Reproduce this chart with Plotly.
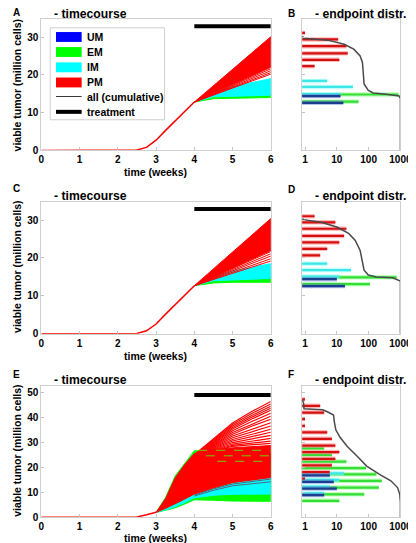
import math
import plotly.graph_objects as go

W, H = 416, 543
FONT = "Liberation Sans"

# ---------------- data ----------------
# common pre-treatment growth (weeks, million cells)
T_PRE = [0, 1, 2, 2.5, 2.75, 3, 3.25, 3.5, 3.75, 4]
A_PRE = [0, 0, 0, 0.1, 0.8, 2.7, 5.3, 7.8, 10.3, 12.8]
C_PRE = [0, 0, 0, 0.1, 0.8, 2.6, 5.2, 7.7, 10.2, 12.7]
T_PRE_E = [0, 1, 2, 2.5, 2.75, 3]
E_PRE = [0, 0, 0, 0.1, 1.0, 2.0]

# treatment period bar
TREAT_T = [4, 6]
A_TREAT_Y = 32.9
C_TREAT_Y = 32.9
E_TREAT_Y = 48.9

# panel A fans (t = 4, 4.5, 5, 6)
T_FAN = [4, 4.5, 5, 6]
A_GREEN_HI = [12.8, 14.2, 14.4, 14.6]
A_GREEN_LO = [12.8, 13.7, 13.9, 14.0]
A_CYAN_HI = [12.8, 15.5, 16.9, 19.0]
T_RED = [4, 6]
A_RED_HI = [12.8, 30.1]
A_RED_LO = [12.8, 22.0]
A_RED_LINES = [21.6, 21.1, 20.6, 20.2]

# panel C fans
C_GREEN_HI = [12.7, 14.0, 14.3, 14.6]
C_GREEN_LO = [12.7, 13.4, 13.6, 13.6]
C_CYAN_HI = [12.7, 15.3, 16.6, 18.5]
C_RED_HI = [12.7, 30.4]
C_RED_LO = [12.7, 22.0]
C_RED_LINES = [21.7, 21.1, 20.5, 19.8, 19.2]

# panel E envelopes (t = 3 ... 6)
T_FAN_E = [3, 3.25, 3.5, 3.75, 4, 4.5, 5, 5.5, 6]
E_GREEN_HI = [2.0, 8.0, 16.5, 21.8, 26.6, 26.4, 26.1, 25.8, 25.5]
E_GREEN_LO = [2.0, 2.8, 3.8, 5.3, 7.0, 6.8, 6.5, 6.4, 6.4]
E_CYAN_HI = [2.0, 3.5, 5.0, 7.0, 9.0, 11.5, 13.5, 14.8, 15.9]
E_CYAN_LO = [2.0, 3.0, 4.2, 5.9, 7.8, 8.8, 9.2, 9.3, 9.3]
E_RED_HI = [2.0, 7.5, 15.8, 21.1, 25.5, 27.0, 27.8, 28.3, 28.7]
E_RED_LO = [2.0, 3.6, 5.3, 7.3, 9.3, 11.8, 13.9, 15.0, 15.9]
# individual trajectories visible above the dense red region (t = 4 ... 6)
T_LINES_E = [4, 4.5, 5, 5.5, 6]
E_RED_LINES = [
    [25.0, 31.5, 37.7, 42.3, 46.3],
    [24.8, 31.1, 37.1, 41.5, 45.3],
    [24.6, 30.7, 36.5, 40.7, 44.4],
    [24.4, 30.3, 35.9, 40.0, 43.6],
    [24.2, 29.9, 35.3, 39.3, 42.8],
    [24.0, 29.5, 34.6, 38.3, 41.6],
    [23.8, 29.1, 33.9, 37.3, 40.4],
    [23.6, 28.8, 33.2, 36.4, 39.2],
    [23.4, 28.5, 32.5, 35.3, 37.8],
    [23.2, 28.2, 31.8, 34.3, 36.5],
    [23.0, 27.9, 31.1, 33.3, 35.2],
    [22.8, 27.6, 30.5, 32.4, 34.0],
    [22.6, 27.3, 29.9, 31.4, 32.8],
    [22.4, 27.0, 29.3, 30.5, 31.6],
    [22.2, 26.7, 28.8, 29.7, 30.5],
    [22.0, 26.4, 28.4, 29.1, 29.6],
]
E_DARK_LINES = [
    [8.9, 11.4, 13.3, 14.4, 15.3],
    [8.5, 10.8, 12.6, 13.5, 14.2],
]
E_GREEN_DASH_T0 = [4.1, 4.3, 4.6]
E_GREEN_DASH_Y = [26.8, 24.6, 22.4]

# endpoint histograms: bin position (million cells) and count
B_GREEN_Y = [14.8, 12.9]
B_GREEN_N = [870, 48]
B_CYAN_Y = [18.4, 16.8, 14.9]
B_CYAN_N = [5, 32, 13]
B_BLUE_Y = [14.4, 12.6]
B_BLUE_N = [13, 16]
B_RED_Y = [31.1, 29.4, 27.6, 25.7, 24.0, 22.3]
B_RED_N = [1, 11, 20, 22, 12, 2]
B_CUM_X = [0.83, 0.89, 5.2, 17, 34, 54, 64, 69, 72, 98, 139, 355, 910, 1000, 1000]
B_CUM_Y = [30.3, 29.7, 29.2, 28.1, 26.8, 25.0, 23.3, 20.7, 17.6, 15.9, 15.2, 14.9, 14.4, 13.7, 0]

D_GREEN_Y = [14.9, 13.1]
D_GREEN_N = [760, 110]
D_CYAN_Y = [18.5, 16.8, 15.1]
D_CYAN_N = [5, 28, 12]
D_BLUE_Y = [14.4, 12.6]
D_BLUE_N = [10, 18]
D_RED_Y = [31.0, 29.4, 27.7, 25.8, 24.1, 22.4, 20.7]
D_RED_N = [2, 9, 20, 17, 12, 5, 3]
D_CUM_X = [0.83, 0.9, 3.2, 10.5, 24, 38, 54, 64, 72, 98, 175, 570, 1000, 1000]
D_CUM_Y = [30.4, 30.1, 29.4, 28.1, 26.4, 24.6, 22.0, 19.0, 16.8, 15.5, 15.0, 14.8, 13.9, 0]

F_GREEN_Y = [27.6, 25.0, 22.3, 19.7, 17.2, 14.6, 11.9, 9.2, 6.6]
F_GREEN_N = [4, 7, 20, 83, 175, 260, 210, 73, 12]
F_CYAN_Y = [17.6, 15.0, 12.3, 9.6]
F_CYAN_N = [17, 12, 6, 4]
F_BLUE_Y = [16.8, 14.2, 11.5, 8.9]
F_BLUE_N = [6, 8, 10, 4]
F_RED_Y = [47.2, 44.6, 41.9, 39.3, 36.6, 34.0, 31.4, 28.7, 26.1, 23.4, 20.8, 18.1, 15.5]
F_RED_N = [1, 3, 4, 1, 1, 5, 7, 9, 12, 9, 7, 6, 1]
F_CUM_X = [0.83, 0.9, 0.93, 3.6, 5.2, 7.9, 8.3, 9.3, 12.6, 21, 43, 87, 220, 500, 810, 950, 1000, 1000]
F_CUM_Y = [46.9, 45.6, 43.4, 43.0, 42.1, 40.9, 38.4, 35.0, 32.0, 28.4, 24.5, 20.5, 17.2, 14.6, 11.9, 9.3, 6.0, 0]

# axis settings
T_TICKS = [0, 1, 2, 3, 4, 5, 6]
HIST_TICKS = [1, 10, 100, 1000]
HIST_TICKTEXT = ["1", "10", "100", "1000"]
HIST_XMIN, HIST_XMAX = 0.81, 1000
A_YMAX, C_YMAX, E_YMAX = 34.7, 34.8, 52.6

LEGEND_LABELS = ["UM", "EM", "IM", "PM", "all (cumulative)", "treatment"]

# colours
RED, CYAN, GREEN, BLUE = "#ff0000", "#00ffff", "#00ff00", "#0000ff"

# ---------------- helpers ----------------
def px(x):
    return x / W


def py(y):
    return 1 - y / H


fig = go.Figure()


def axn(i):
    return ("x" if i == 1 else f"x{i}"), ("y" if i == 1 else f"y{i}")


def poly(i, t, hi, lo, color):
    xa, ya = axn(i)
    fig.add_trace(go.Scatter(x=list(t) + list(t)[::-1], y=list(hi) + list(lo)[::-1],
                             fill="toself", fillcolor=color, mode="lines",
                             line=dict(color=color, width=1),
                             xaxis=xa, yaxis=ya, hoverinfo="skip", showlegend=False))


def line(i, t, v, color, width=1.0, dash=None):
    xa, ya = axn(i)
    fig.add_trace(go.Scatter(x=t, y=v, mode="lines",
                             line=dict(color=color, width=width, dash=dash),
                             xaxis=xa, yaxis=ya, hoverinfo="skip", showlegend=False))


def hbars(i, ys, ns, core, halo):
    xs, yy = [], []
    for y, n in zip(ys, ns):
        xs += [HIST_XMIN, n, None]
        yy += [y, y, None]
    line(i, xs, yy, halo, 4.5)
    line(i, xs, yy, core, 2.2)


# ---------------- panel A ----------------
poly(1, T_FAN, A_GREEN_HI, A_GREEN_LO, GREEN)
poly(1, T_FAN, A_CYAN_HI, A_GREEN_HI, CYAN)
poly(1, T_RED, A_RED_HI, A_RED_LO, RED)
for v in A_RED_LINES:
    line(1, T_RED, [A_RED_HI[0], v], RED, 1.0)
line(1, T_PRE, A_PRE, RED, 1.5)
line(1, TREAT_T, [A_TREAT_Y, A_TREAT_Y], "black", 4)

# ---------------- panel C ----------------
poly(3, T_FAN, C_GREEN_HI, C_GREEN_LO, GREEN)
poly(3, T_FAN, C_CYAN_HI, C_GREEN_HI, CYAN)
poly(3, T_RED, C_RED_HI, C_RED_LO, RED)
for v in C_RED_LINES:
    line(3, T_RED, [C_RED_HI[0], v], RED, 1.0)
line(3, T_PRE, C_PRE, RED, 1.5)
line(3, TREAT_T, [C_TREAT_Y, C_TREAT_Y], "black", 4)

# ---------------- panel E ----------------
poly(5, T_FAN_E, E_GREEN_HI, E_GREEN_LO, GREEN)
poly(5, T_FAN_E, E_CYAN_HI, E_CYAN_LO, CYAN)
for v in E_DARK_LINES:
    line(5, T_LINES_E, v, "#4d6680", 1.0)
poly(5, T_FAN_E, E_RED_HI, E_RED_LO, RED)
for v in E_RED_LINES:
    line(5, T_LINES_E, v, RED, 1.2)
for t0, v in zip(E_GREEN_DASH_T0, E_GREEN_DASH_Y):
    line(5, [t0, 6], [v, v], "#6fcf00", 1.0, "dash")
line(5, T_PRE_E, E_PRE, RED, 1.5)
line(5, TREAT_T, [E_TREAT_Y, E_TREAT_Y], "black", 4)

# ---------------- histograms ----------------
HALO = dict(red="rgba(255,130,130,0.55)", cyan="rgba(150,255,255,0.6)",
            green="rgba(140,255,140,0.6)", blue="rgba(90,120,210,0.45)")
CORE = dict(red="#d41010", cyan="#3ee6e6", green="#33dd33", blue="#1c3d8f")
for i, (gy, gn, cy, cn, by, bn, ry, rn, cx, cyy) in {
    2: (B_GREEN_Y, B_GREEN_N, B_CYAN_Y, B_CYAN_N, B_BLUE_Y, B_BLUE_N, B_RED_Y, B_RED_N, B_CUM_X, B_CUM_Y),
    4: (D_GREEN_Y, D_GREEN_N, D_CYAN_Y, D_CYAN_N, D_BLUE_Y, D_BLUE_N, D_RED_Y, D_RED_N, D_CUM_X, D_CUM_Y),
    6: (F_GREEN_Y, F_GREEN_N, F_CYAN_Y, F_CYAN_N, F_BLUE_Y, F_BLUE_N, F_RED_Y, F_RED_N, F_CUM_X, F_CUM_Y),
}.items():
    hbars(i, gy, gn, CORE["green"], HALO["green"])
    hbars(i, cy, cn, CORE["cyan"], HALO["cyan"])
    hbars(i, ry, rn, CORE["red"], HALO["red"])
    hbars(i, by, bn, CORE["blue"], HALO["blue"])
    line(i, cx, cyy, "#4a4a4a", 1.5)

# ---------------- axes ----------------
ROWS = {1: (11.5, 144, A_YMAX, [0, 10, 20, 30]),
        3: (196, 329.5, C_YMAX, [0, 10, 20, 30]),
        5: (382, 515, E_YMAX, [0, 10, 20, 30, 40, 50])}
TICKFONT = dict(family=FONT, size=10, color="black", weight="bold")
common = dict(showgrid=False, zeroline=False, showline=True, mirror=True,
              linecolor="#cfcfcf", linewidth=1, ticks="inside", ticklen=3,
              tickcolor="#c4c4c4", tickfont=TICKFONT)
lay = {}
for i, (top, bot, ymax, yt) in ROWS.items():
    ydom = [py(bot), py(top)]
    xa, ya = ("xaxis" if i == 1 else f"xaxis{i}"), ("yaxis" if i == 1 else f"yaxis{i}")
    lay[xa] = dict(domain=[px(31.5), px(269.5)], range=[0, 6], tickvals=T_TICKS,
                   anchor=("y" if i == 1 else f"y{i}"), **common)
    lay[ya] = dict(domain=ydom, range=[0, ymax], tickvals=yt,
                   anchor=("x" if i == 1 else f"x{i}"), **common)
    j = i + 1
    lay[f"xaxis{j}"] = dict(domain=[px(302), px(404)], type="log",
                            range=[math.log10(HIST_XMIN), math.log10(HIST_XMAX)],
                            tickvals=HIST_TICKS, ticktext=HIST_TICKTEXT,
                            ticklabeloverflow="allow",
                            anchor=f"y{j}", **common)
    lay[f"yaxis{j}"] = dict(domain=ydom, range=[0, ymax], tickvals=yt,
                            showticklabels=False, anchor=f"x{j}", **common)

fig.update_layout(**lay)

# ---------------- texts ----------------
ann = []


def text(x, y, s, size, xanchor="left", angle=0):
    ann.append(dict(x=px(x), y=py(y), xref="paper", yref="paper", text=s,
                    showarrow=False, xanchor=xanchor, yanchor="middle", textangle=angle,
                    font=dict(family=FONT, size=size, color="black", weight="bold")))


for letter, ly, ty in [("A", 5, 6.5), ("C", 183, 190), ("E", 370.3, 375.8)]:
    text(0.5, ly, letter, 10)
    text(42.5, ty, "- timecourse", 12.2)
for letter, ly, ty in [("B", 6, 6.5), ("D", 183.3, 190), ("F", 370.3, 375.8)]:
    text(285, ly, letter, 10)
    text(313.5, ty, "- endpoint distr.", 12.2)
for yc in [166.3, 351.6, 535.8]:
    text(150, yc, "time (weeks)", 10.5, "center")
for yc in [78.5, 262, 448]:
    text(6, yc, "viable tumor (million cells)", 10.5, "center", -90)

# legend (panel A)
shapes = [dict(type="rect", xref="paper", yref="paper", x0=px(40.7), x1=px(159.3),
               y0=py(113), y1=py(20), line=dict(color="#cfcfcf", width=1),
               fillcolor="white", layer="above")]
leg_y = [29.3, 44.5, 60, 75.3, 89.5, 105]
for k, c in enumerate([BLUE, GREEN, CYAN, RED]):
    yc = leg_y[k]
    shapes.append(dict(type="rect", xref="paper", yref="paper", x0=px(46.7), x1=px(73.3),
                       y0=py(yc + 5), y1=py(yc - 5), line=dict(width=0), fillcolor=c,
                       layer="above"))
shapes.append(dict(type="line", xref="paper", yref="paper", x0=px(46.7), x1=px(73.3),
                   y0=py(leg_y[4]), y1=py(leg_y[4]), line=dict(color="#3a3a3a", width=1),
                   layer="above"))
shapes.append(dict(type="line", xref="paper", yref="paper", x0=px(46.7), x1=px(73.3),
                   y0=py(leg_y[5]), y1=py(leg_y[5]), line=dict(color="black", width=4),
                   layer="above"))
for k, lab in enumerate(LEGEND_LABELS):
    text(77, leg_y[k], lab, 10.5)

fig.update_layout(width=W, height=H, margin=dict(l=0, r=0, t=0, b=0),
                  paper_bgcolor="white", plot_bgcolor="white",
                  showlegend=False, annotations=ann, shapes=shapes)
fig.write_html("out.html")
